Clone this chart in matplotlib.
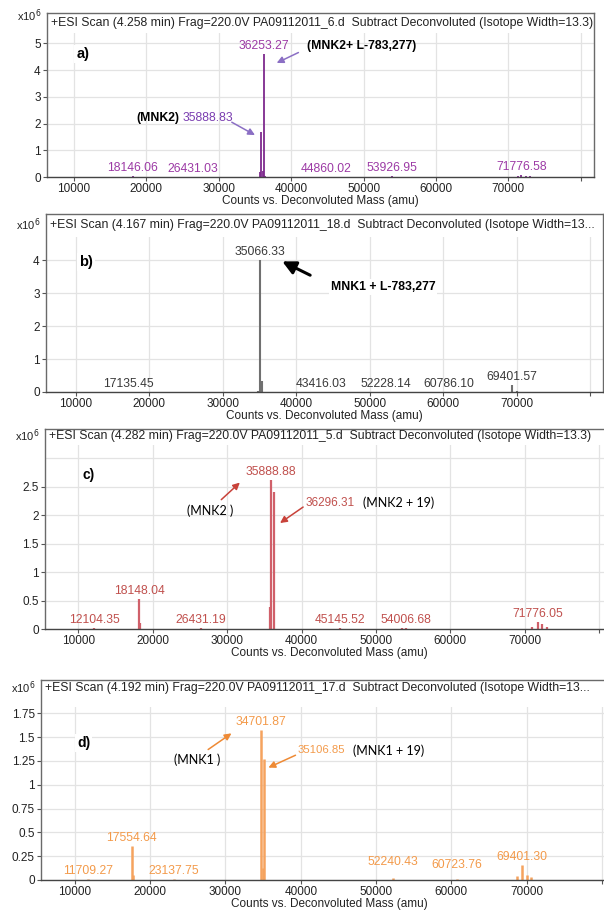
import matplotlib
matplotlib.use("Agg")
import matplotlib.pyplot as plt
from matplotlib.patches import Rectangle
from matplotlib.ticker import FuncFormatter

plt.rcParams['font.family'] = ['Liberation Sans', 'DejaVu Sans']

# ---------------- data ----------------
x_ticks = [10000, 20000, 30000, 40000, 50000, 60000, 70000, 80000]
x_tick_labels = ["10000", "20000", "30000", "40000", "50000", "60000", "70000", ""]
x_label = "Counts vs. Deconvoluted Mass (amu)"

a_header = "+ESI Scan (4.258 min) Frag=220.0V PA09112011_6.d  Subtract Deconvoluted (Isotope Width=13.3)"
a_mass = [18146.06, 26431.03, 35700.0, 35888.83, 36080.0, 36253.27, 36450.0,
          44860.02, 53926.95, 71400.0, 71776.58, 72400.0, 73000.0]
a_counts = [0.02, 0.01, 0.2, 1.68, 0.22, 4.62, 0.05,
            0.01, 0.02, 0.03, 0.08, 0.05, 0.03]
a_label_mass = [18146.06, 26431.03, 36253.27, 44860.02, 53926.95, 71776.58]
a_yticks = [0, 1, 2, 3, 4, 5]

b_header = "+ESI Scan (4.167 min) Frag=220.0V PA09112011_18.d  Subtract Deconvoluted (Isotope Width=13..."
b_mass = [17135.45, 34800.0, 35066.33, 35400.0, 43416.03, 52228.14, 60786.10, 69401.57, 70000.0]
b_counts = [0.01, 0.03, 4.02, 0.33, 0.01, 0.01, 0.01, 0.2, 0.03]
b_label_mass = [17135.45, 35066.33, 43416.03, 52228.14, 60786.10, 69401.57]
b_yticks = [0, 1, 2, 3, 4]

c_header = "+ESI Scan (4.282 min) Frag=220.0V PA09112011_5.d  Subtract Deconvoluted (Isotope Width=13.3)"
c_mass = [12104.35, 18148.04, 18300.0, 26431.19, 35750.0, 35888.88, 36296.31,
          45145.52, 53500.0, 54006.68, 71000.0, 71776.05, 72300.0, 73000.0]
c_counts = [0.01, 0.53, 0.1, 0.01, 0.38, 2.61, 2.41,
            0.01, 0.02, 0.02, 0.04, 0.12, 0.08, 0.03]
c_label_mass = [12104.35, 18148.04, 26431.19, 45145.52, 54006.68, 71776.05]
c_yticks = [0, 0.5, 1, 1.5, 2, 2.5]

d_header = "+ESI Scan (4.192 min) Frag=220.0V PA09112011_17.d  Subtract Deconvoluted (Isotope Width=13..."
d_mass = [11709.27, 17554.64, 17700.0, 23137.75, 34701.87, 34950.0, 35106.85,
          52240.43, 60723.76, 68700.0, 69401.30, 70100.0, 70600.0]
d_counts = [0.01, 0.355, 0.05, 0.01, 1.575, 0.13, 1.27,
            0.02, 0.01, 0.04, 0.16, 0.05, 0.03]
d_label_mass = [11709.27, 17554.64, 23137.75, 52240.43, 60723.76, 69401.30]
d_yticks = [0, 0.25, 0.5, 0.75, 1, 1.25, 1.5, 1.75]

# ---------------- figure ----------------
W, H = 604, 911
fig = plt.figure(figsize=(W / 100, H / 100), dpi=100)


def make_axes(l, t, r, b):
    return fig.add_axes([l / W, 1 - b / H, (r - l) / W, (b - t) / H])


def style_axes(ax, xlim, ylim, yticks, header, header_dy, band_px, top_px, left_px, x10_dy):
    ax.set_xlim(*xlim)
    ax.set_ylim(*ylim)
    ax.set_axisbelow(True)
    ax.set_xticks(x_ticks)
    ax.set_xticklabels(x_tick_labels)
    ax.set_yticks(yticks)
    ax.yaxis.set_major_formatter(FuncFormatter(lambda v, p: "%g" % v))
    ax.grid(True, color="#e3e3e3", lw=0.9)
    ax.tick_params(axis="both", direction="out", length=3, width=0.8,
                   colors="#555555", labelcolor="#222222", labelsize=8.5, pad=1.5)
    for s in ax.spines.values():
        s.set_color("#6a6a6a")
        s.set_linewidth(1.0)
    ax.spines["bottom"].set_color("#444444")
    ax.set_xlabel(x_label, fontsize=8.5, color="#222222", labelpad=0)
    # white band behind header (hides grid)
    hb = ax.get_position().height * H
    ax.add_patch(Rectangle((0, 1 - band_px / hb), 1, band_px / hb, transform=ax.transAxes,
                           facecolor="white", edgecolor="none", zorder=0.7))
    fig.text((left_px + 4) / W, 1 - (top_px + header_dy) / H, header, fontsize=8.8,
             color="#222222", ha="left", va="center")
    fig.text((left_px - 6) / W, 1 - (top_px + x10_dy) / H, r"x10$^{6}$", fontsize=8,
             color="#222222", ha="right", va="center")


def draw_peaks(ax, mass, counts, color, lw, label_mass, label_color, skip=(), extra=None):
    ax.vlines(mass, 0, counts, colors=color, lw=lw, zorder=2)
    extra = extra or {}
    for m in label_mass:
        if m in skip:
            continue
        h = counts[mass.index(m)]
        ax.annotate("%.2f" % m, xy=(m, h), xytext=(0, 1.5 + extra.get(m, 0)),
                    textcoords="offset points", ha="center", va="bottom",
                    fontsize=8.7, color=label_color, zorder=3)


def arrow(ax, tail, head, color, lw=1.1, ms=10):
    ax.annotate("", xy=head, xytext=tail,
                arrowprops=dict(arrowstyle="-|>", color=color, lw=lw,
                                mutation_scale=ms, shrinkA=0, shrinkB=0), zorder=4)


white = dict(facecolor="white", edgecolor="none", pad=1.5)

# ---- panel a ----
axa = make_axes(47, 13, 594, 177)
style_axes(axa, (6270, 81830), (0, 6.14), a_yticks, a_header, 10, 20, 13, 47, 3)
draw_peaks(axa, a_mass, a_counts, "#7E2A8E", 1.3, a_label_mass, "#9C3AA5")
axa.text(10300, 4.6, "a)", fontsize=10.5, fontweight="bold", ha="left", va="center",
         color="black", bbox=white, zorder=3)
axa.text(42200, 4.92, "(MNK2+ L-783,277)", fontsize=8.8, fontweight="bold",
         ha="left", va="center", color="black", zorder=3)
arrow(axa, (41000, 4.66), (38000, 4.27), "#8B6FC4")
axa.text(24500, 2.2, "(MNK2)", fontsize=8.8, fontweight="bold", ha="right",
         va="center", color="black", zorder=3)
axa.text(25000, 2.2, "35888.83", fontsize=8.7, ha="left", va="center",
         color="#7A3DB0", zorder=3)
arrow(axa, (31800, 2.05), (35000, 1.57), "#8B6FC4")

# ---- panel b ----
axb = make_axes(46, 214, 603, 392)
style_axes(axb, (5960, 81740), (0, 5.41), b_yticks, b_header, 11, 23, 214, 46, 11)
draw_peaks(axb, b_mass, b_counts, "#707070", 1.5, b_label_mass, "#3a3a3a")
axb.text(10500, 3.95, "b)", fontsize=10.5, fontweight="bold", ha="left", va="center",
         color="black", bbox=white, zorder=3)
arrow(axb, (41900, 3.55), (38100, 3.97), "black", lw=2.2, ms=20)
axb.text(44700, 3.2, "MNK1 + L-783,277", fontsize=8.8, fontweight="bold",
         ha="left", va="center", color="black", bbox=white, zorder=3)

# ---- panel c ----
axc = make_axes(45, 429, 614, 629)
style_axes(axc, (5500, 82000), (0, 3.51), c_yticks, c_header, 7, 16, 429, 45, 7)
axc.axhline(3.0, color="#e3e3e3", lw=0.9, zorder=0.5)
draw_peaks(axc, c_mass, c_counts, "#D0606A", 1.6, c_label_mass, "#C0504D")
axc.annotate("35888.88", xy=(35888.88, 2.61), xytext=(0, 1.5), textcoords="offset points",
             ha="center", va="bottom", fontsize=8.7, color="#C0504D", zorder=3)
axc.text(10600, 2.71, "c)", fontsize=10, fontweight="bold", ha="left", va="center",
         color="black", bbox=white, zorder=3)
axc.text(27700, 2.08, "(MNK2 )", fontsize=9, family=["Lato", "DejaVu Sans"],
         ha="center", va="center", color="black", zorder=3)
arrow(axc, (29200, 2.27), (31700, 2.57), "#C8423A")
axc.text(40500, 2.22, "36296.31", fontsize=8.5, ha="left", va="center",
         color="#C0504D", zorder=3)
axc.text(48300, 2.22, "(MNK2 + 19)", fontsize=9, family=["Lato", "DejaVu Sans"],
         ha="left", va="center", color="black", zorder=3)
arrow(axc, (40200, 2.14), (37100, 1.86), "#C8423A")

# ---- panel d ----
axd = make_axes(41, 680, 617, 880)
style_axes(axd, (5500, 82000), (0, 2.10), d_yticks, d_header, 8, 27, 680, 41, 8)
draw_peaks(axd, d_mass, d_counts, "#F5A35E", 1.8, d_label_mass, "#F39A4A",
           extra={52240.43: 6.0, 60723.76: 4.5})
axd.annotate("34701.87", xy=(34701.87, 1.575), xytext=(0, 1.5), textcoords="offset points",
             ha="center", va="bottom", fontsize=8.7, color="#F39A4A", zorder=3)
axd.text(10300, 1.44, "d)", fontsize=10, fontweight="bold", ha="left", va="center",
         color="black", bbox=white, zorder=3)
axd.text(26200, 1.26, "(MNK1 )", fontsize=9, family=["Lato", "DejaVu Sans"],
         ha="center", va="center", color="black", zorder=3)
arrow(axd, (27700, 1.37), (30800, 1.54), "#EE8A35")
axd.text(39600, 1.36, "35106.85", fontsize=8.2, ha="left", va="center",
         color="#F39A4A", zorder=3)
axd.text(46900, 1.36, "(MNK1 + 19)", fontsize=9, family=["Lato", "DejaVu Sans"],
         ha="left", va="center", color="black", zorder=3)
arrow(axd, (39300, 1.31), (35700, 1.18), "#EE8A35")

fig.savefig("out.png", dpi=100)
